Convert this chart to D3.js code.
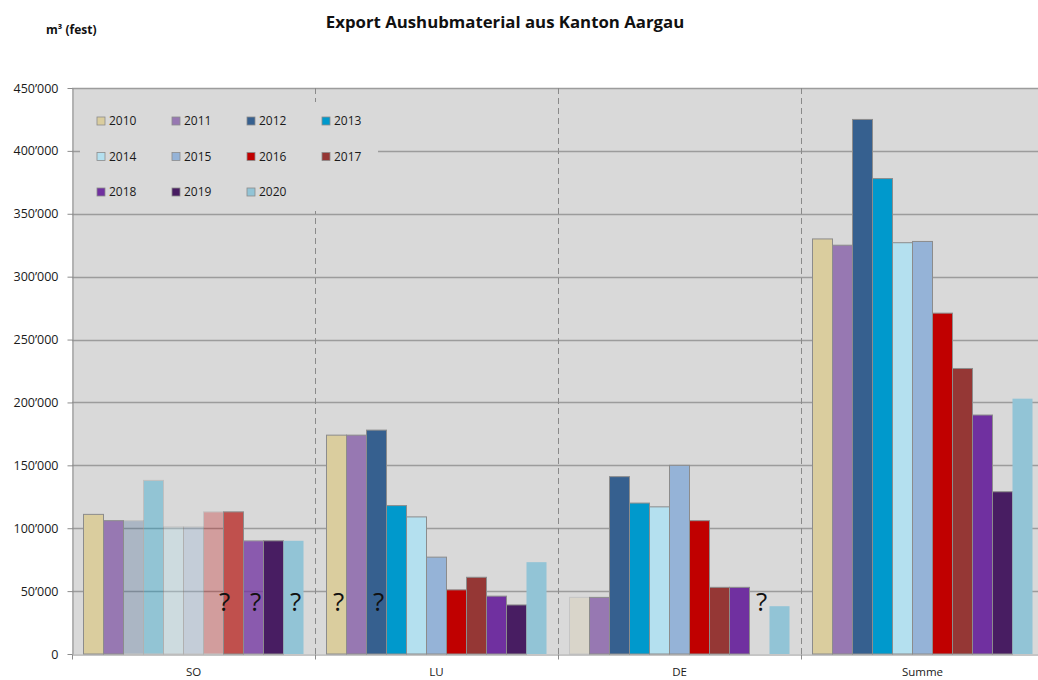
<!DOCTYPE html>
<html>
<head>
<meta charset="utf-8">
<script src="https://cdn.jsdelivr.net/npm/d3@7"></script>
<style>
  html, body { margin: 0; padding: 0; background: #fff; }
  svg { display: block; font-family: "Open Sans", "Noto Sans", sans-serif; }
</style>
</head>
<body>
<svg id="chart" width="1038" height="680"></svg>
<script>
// Export of excavated material from canton Aargau, m³ (solid), by destination and year
const groups = ["SO", "LU", "DE", "Summe"];
const years = ["2010", "2011", "2012", "2013", "2014", "2015", "2016", "2017", "2018", "2019", "2020"];

const valuesSO    = [111000, 106000, 106000, 138000, 101000, 101000, 113000, 113000, 90000, 90000, 90000];
const valuesLU    = [174000, 174000, 178000, 118000, 109000, 77000, 51000, 61000, 46000, 39000, 73000];
const valuesDE    = [45000, 45000, 141000, 120000, 117000, 150000, 106000, 53000, 53000, null, 38000];
const valuesSumme = [330000, 325000, 425000, 378000, 327000, 328000, 271000, 227000, 190000, 129000, 203000];

const yTicks = [0, 50000, 100000, 150000, 200000, 250000, 300000, 350000, 400000, 450000];

// Uncertain entries, marked with a question mark
const uncertain = [["SO", "2016"], ["SO", "2018"], ["SO", "2020"], ["LU", "2010"], ["LU", "2012"], ["DE", "2019"]];

const colors = {
  "2010": "#dacd9e", "2011": "#9778b2", "2012": "#36608f", "2013": "#0099cc",
  "2014": "#b4e0ef", "2015": "#95b3d7", "2016": "#c00000", "2017": "#953735",
  "2018": "#7030a0", "2019": "#481d62", "2020": "#92c4d6"
};
// Estimated bars are drawn faded; some have their own fill
const fade = {
  "SO-2012": 0.28, "SO-2013": 0.32, "SO-2014": 0.3, "SO-2015": 0.3, "SO-2016": 0.27,
  "SO-2018": 0.75, "DE-2010": 0.25
};
const fillOverride = { "SO-2017": "#c0504d" };
const markShift = { "SO-2016": 0.45 };

const seriesByGroup = { SO: valuesSO, LU: valuesLU, DE: valuesDE, Summe: valuesSumme };
const rows = [];
groups.forEach(g => years.forEach((yr, i) => {
  rows.push({ group: g, year: yr, value: seriesByGroup[g][i] });
}));

const svg = d3.select("#chart");
const plotLeft = 72, plotRight = 1044, plotTop = 88, plotBottom = 654;

const x0 = d3.scaleBand().domain(groups).range([plotLeft, plotRight]).padding(0);
const x1 = d3.scaleBand().domain(years).range([0, x0.bandwidth()]).paddingInner(0).paddingOuter(0.575);
const y = d3.scaleLinear().domain([0, 450000]).range([plotBottom, plotTop]);

// Plot background
svg.append("rect")
  .attr("x", plotLeft).attr("y", plotTop)
  .attr("width", plotRight - plotLeft).attr("height", plotBottom - plotTop)
  .attr("fill", "#d9d9d9");

// Horizontal grid
svg.append("g").selectAll("line")
  .data(yTicks.filter(d => d > 0))
  .join("line")
  .attr("x1", plotLeft).attr("x2", plotRight)
  .attr("y1", d => Math.round(y(d)) + 0.5).attr("y2", d => Math.round(y(d)) + 0.5)
  .attr("stroke", "#9c9c9c").attr("stroke-width", 1.3);

// Dashed separators between destinations
svg.append("g").selectAll("line")
  .data(groups.slice(1))
  .join("line")
  .attr("x1", d => Math.round(x0(d)) + 0.5).attr("x2", d => Math.round(x0(d)) + 0.5)
  .attr("y1", plotTop).attr("y2", plotBottom)
  .attr("stroke", "#8a8a8a").attr("stroke-width", 1)
  .attr("stroke-dasharray", "6,4");

// Legend panel
const legend = svg.append("g");
legend.append("rect")
  .attr("x", 80).attr("y", 102).attr("width", 298).attr("height", 109)
  .attr("fill", "#d9d9d9");
const legItems = legend.selectAll("g.item")
  .data(years)
  .join("g")
  .attr("class", "item")
  .attr("transform", (d, i) => `translate(${97 + (i % 4) * 75},${121 + Math.floor(i / 4) * 35.5})`);
legItems.append("rect")
  .attr("x", 0).attr("y", -4).attr("width", 8).attr("height", 8)
  .attr("fill", d => colors[d])
  .attr("stroke", "#8c8c8c").attr("stroke-width", 0.8);
legItems.append("text")
  .attr("x", 12).attr("y", 0).attr("dy", "0.36em")
  .attr("font-size", 12).attr("fill", "#1a1a1a")
  .text(d => d);

// Bars
svg.append("g").selectAll("rect")
  .data(rows.filter(d => d.value != null))
  .join("rect")
  .attr("x", d => x0(d.group) + x1(d.year))
  .attr("y", d => y(d.value))
  .attr("width", x1.bandwidth())
  .attr("height", d => y(0) - y(d.value))
  .attr("fill", d => fillOverride[d.group + "-" + d.year] || colors[d.year])
  .attr("opacity", d => fade[d.group + "-" + d.year] ?? 1)
  .attr("stroke", d => d.year === "2020" ? "none" : "#8c8c8c")
  .attr("stroke-width", 1);

// Question marks on uncertain entries
svg.append("g").selectAll("text")
  .data(uncertain)
  .join("text")
  .attr("x", ([g, yr]) => x0(g) + x1(yr) + x1.bandwidth() * (0.6 + (markShift[g + "-" + yr] || 0)))
  .attr("y", 611)
  .attr("text-anchor", "middle")
  .attr("font-size", 26).attr("fill", "#111")
  .text("?");

// Y axis
const fmt = d => d === 0 ? "0" : d3.format(",")(d).replace(/,/g, "’");
const yAxis = svg.append("g")
  .attr("transform", `translate(${plotLeft + 0.5},0)`)
  .call(d3.axisLeft(y).tickValues(yTicks).tickFormat(fmt).tickSize(5).tickSizeOuter(0).tickPadding(9));
yAxis.select(".domain").attr("stroke", "#8c8c8c");
yAxis.selectAll(".tick line").attr("stroke", "#8c8c8c");
yAxis.selectAll("text").attr("font-size", 12.5).attr("fill", "#1a1a1a").attr("font-family", "Open Sans, sans-serif");

// X axis: baseline, boundary ticks and destination labels
const xAxis = svg.append("g")
  .attr("transform", `translate(0,${plotBottom + 0.5})`)
  .call(d3.axisBottom(x0).tickSize(0).tickSizeOuter(0).tickPadding(13));
xAxis.select(".domain").attr("stroke", "#8c8c8c");
xAxis.selectAll("text").attr("font-size", 11.5).attr("fill", "#1a1a1a").attr("font-family", "Open Sans, sans-serif");
xAxis.selectAll("line.bound")
  .data(groups.map(g => x0(g)))
  .join("line")
  .attr("class", "bound")
  .attr("x1", d => Math.round(d) + 0.5).attr("x2", d => Math.round(d) + 0.5)
  .attr("y1", 0).attr("y2", 5)
  .attr("stroke", "#8c8c8c");

// Titles
svg.append("text")
  .attr("x", 505).attr("y", 28)
  .attr("text-anchor", "middle")
  .attr("font-size", 16.8).attr("font-weight", "bold").attr("fill", "#111")
  .text("Export Aushubmaterial aus Kanton Aargau");
svg.append("text")
  .attr("x", 46).attr("y", 34)
  .attr("font-size", 12).attr("font-weight", "bold").attr("fill", "#111")
  .text("m³ (fest)");
</script>
</body>
</html>
